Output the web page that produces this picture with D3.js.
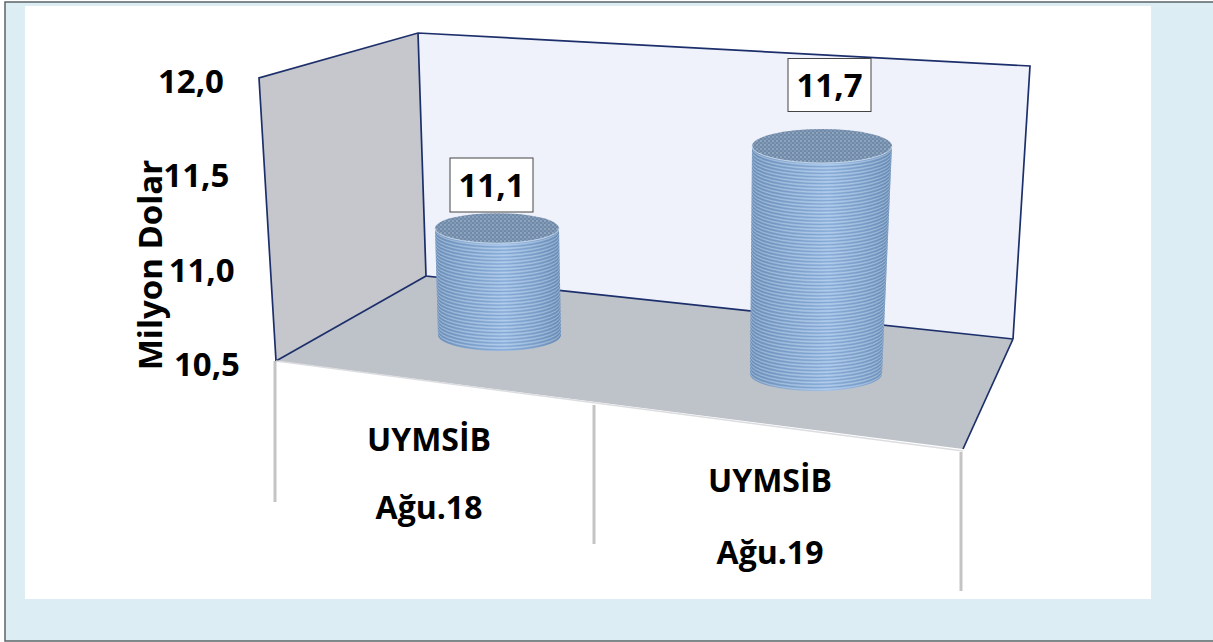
<!DOCTYPE html>
<html><head><meta charset="utf-8">
<script src="https://cdnjs.cloudflare.com/ajax/libs/d3/7.8.5/d3.min.js"></script>
<style>html,body{margin:0;padding:0;background:#fff}svg{display:block}text{font-family:"Open Sans",sans-serif;font-weight:700;fill:#000}</style>
</head><body><svg id="c" width="1213" height="642"></svg>
<script>
const names=["UYMSİB","UYMSİB"];
const periods=["Ağu.18","Ağu.19"];
const values=[11.1,11.7];
const valueLabels=["11,1","11,7"];
const ticks=[10.5,11.0,11.5,12.0];
const tickLabels=["10,5","11,0","11,5","12,0"];
const axisTitle="Milyon Dolar";

const svg=d3.select("#c");
const line=d3.line();
svg.append("rect").attr("width",1213).attr("height",642).attr("fill","#fff");
svg.append("rect").attr("x",5).attr("y",2).attr("width",1209).attr("height",639).attr("fill","#DCEEF4").attr("stroke","#5b6468").attr("stroke-width",1.5);
svg.append("rect").attr("x",25).attr("y",6).attr("width",1126).attr("height",593).attr("fill","#fff");

const defs=svg.append("defs");
const grad=defs.append("linearGradient").attr("id","body");
[[0,"#7597BF"],[.25,"#8AACD4"],[.55,"#9FC0E8"],[.8,"#88AAD2"],[1,"#7093BB"]].forEach(([o,c])=>grad.append("stop").attr("offset",o).attr("stop-color",c));
const dots=defs.append("pattern").attr("id","dots").attr("patternUnits","userSpaceOnUse").attr("width",4).attr("height",4);
dots.append("rect").attr("width",4).attr("height",4).attr("fill","#6F89A8");
dots.append("circle").attr("cx",1).attr("cy",1).attr("r",.9).attr("fill","#9DB1C8");
dots.append("circle").attr("cx",3).attr("cy",3).attr("r",.9).attr("fill","#8BA1BC");

// 3D frame
const navy="#1C2F6B";
const leftWall=[[259,78],[418,33],[426,276],[276,361]];
const backWall=[[418,33],[1030,66],[1013,339],[426,276]];
const floor=[[276,361],[426,276],[1013,339],[963,449]];
svg.append("path").attr("d",line(backWall)+"Z").attr("fill","#EFF2FA");
svg.append("path").attr("d",line(leftWall)+"Z").attr("fill","#C6C7CC");
svg.append("path").attr("d",line(floor)+"Z").attr("fill","#BEC2C9");
[[[276,361],[259,78],[418,33],[1030,66],[1013,339]],[[418,33],[426,276],[1013,339]],[[276,361],[426,276]],[[1013,339],[963,449]]]
 .forEach(p=>svg.append("path").attr("d",line(p)).attr("fill","none").attr("stroke",navy).attr("stroke-width",1.7));
svg.append("path").attr("d",line([[276,361],[963,451]])).attr("stroke","#dcdde0").attr("stroke-width",1.5).attr("fill","none");

// category separators
[[275,361,502],[594,405,544],[961,452,591]].forEach(([x,a,b])=>
 svg.append("line").attr("x1",x).attr("x2",x).attr("y1",a).attr("y2",b).attr("stroke","#C4C4C4").attr("stroke-width",3));

// value axis
const yTick=d3.scaleLinear().domain([10.5,12]).range([364,81]);
const xTick=d3.scaleLinear().domain([10.5,12]).range([240,224]);
svg.append("g").selectAll("text").data(ticks).join("text")
 .attr("x",d=>xTick(d)).attr("y",d=>yTick(d)).attr("dy","0.36em").attr("text-anchor","end")
 .attr("font-size",33).text((d,i)=>tickLabels[i]);
svg.append("text").attr("transform","translate(150,265) rotate(-90)").attr("text-anchor","middle")
 .attr("dy","0.36em").attr("font-size",33).text(axisTitle);

// category labels
const catLayout=[{x:429,y1:439,y2:507},{x:770,y1:480,y2:552}];
names.forEach((n,i)=>{
 svg.append("text").attr("x",catLayout[i].x).attr("y",catLayout[i].y1).attr("dy","0.36em").attr("text-anchor","middle").attr("font-size",32).text(n);
 svg.append("text").attr("x",catLayout[i].x).attr("y",catLayout[i].y2).attr("dy","0.36em").attr("text-anchor","middle").attr("font-size",32).text(periods[i]);
});

// cylinders
const layout=[
 {bx:499.5,by:335,brx:61.5,bry:16,tx:497,trx:62,try:15,h:267,lx:491.5,ly:185,lw:83,lh:54},
 {bx:816,by:374,brx:66,bry:17,tx:822,trx:70,try:17,h:285,lx:829.5,ly:85,lw:83,lh:53}
];
values.forEach((v,i)=>{
 const L=layout[i];
 const hScale=d3.scaleLinear().domain([10.5,12]).range([0,L.h]);
 const topY=L.by-hScale(v);
 const g=svg.append("g");
 const body=`M${L.tx-L.trx},${topY}L${L.bx-L.brx},${L.by}A${L.brx},${L.bry} 0 0 0 ${L.bx+L.brx},${L.by}L${L.tx+L.trx},${topY}Z`;
 g.append("path").attr("d",body).attr("fill",`url(#body)`);
 const t=d3.scaleLinear().domain([topY,L.by]).range([0,1]);
 const rows=d3.range(topY+2,L.by+L.bry,1.7).filter(y=>y<=L.by);
 const clip=defs.append("clipPath").attr("id","cl"+i);
 clip.append("path").attr("d",body);
 const st=g.append("g").attr("clip-path",`url(#cl${i})`);
 st.selectAll("path").data(rows).join("path")
  .attr("d",y=>{const f=t(y),cx=L.tx+(L.bx-L.tx)*f,rx=L.trx+(L.brx-L.trx)*f,ry=L.try+(L.bry-L.try)*f;
    return `M${cx-rx},${y}A${rx},${ry} 0 0 0 ${cx+rx},${y}`;})
  .attr("fill","none")
  .attr("stroke",(y,j)=>j%2?"#4F74A3":"#DCE8F5")
  .attr("stroke-opacity",(y,j)=>j%2?.4:.45).attr("stroke-width",.8);
 g.append("ellipse").attr("cx",L.tx).attr("cy",topY).attr("rx",L.trx).attr("ry",L.try).attr("fill","url(#dots)");
 g.append("path").attr("d",`M${L.tx-L.trx},${topY}A${L.trx},${L.try} 0 0 0 ${L.tx+L.trx},${topY}`).attr("fill","none").attr("stroke","#C5D6EA").attr("stroke-width",1);
 svg.append("rect").attr("x",L.lx-L.lw/2).attr("y",L.ly-L.lh/2).attr("width",L.lw).attr("height",L.lh).attr("fill","#fff").attr("stroke","#444").attr("stroke-width",1);
 svg.append("text").attr("x",L.lx).attr("y",L.ly).attr("dy","0.36em").attr("text-anchor","middle").attr("font-size",33).text(valueLabels[i]);
});
</script></body></html>
